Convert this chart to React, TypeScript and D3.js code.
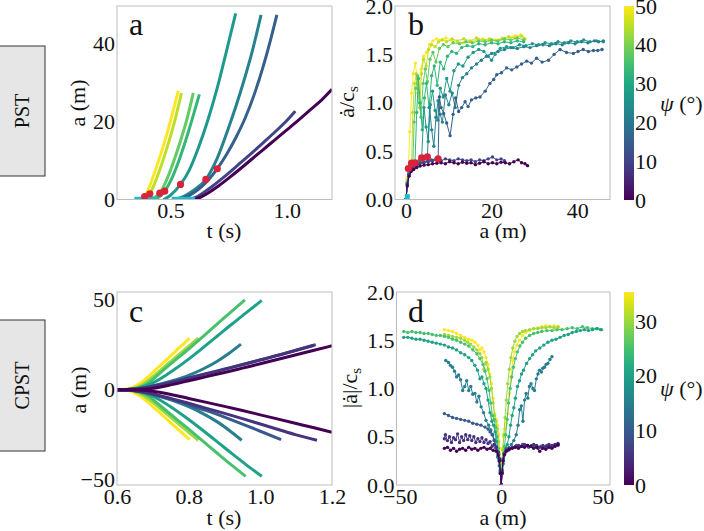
import React, { useRef, useEffect } from "react";
import * as d3 from "d3";

type Pt = [number, number];

// ---------- PST (panels a, b) ----------
const pstPsi = [0, 10, 15, 22, 27, 33, 38, 45, 50];

// panel a: crack length a (m) against time t (s)
const pstLength: Pt[][] = [
  [[0.605, 0], [0.63, 0.6], [0.66, 1.6], [0.7, 3.2], [0.75, 5.5], [0.8, 7.9], [0.85, 10.4], [0.9, 12.9], [0.95, 15.4], [1.0, 17.9], [1.05, 20.4], [1.1, 23.0], [1.15, 25.6], [1.194, 28.3]],
  [[0.583, 0], [0.61, 0.6], [0.64, 1.7], [0.68, 3.4], [0.72, 5.3], [0.76, 7.3], [0.8, 9.4], [0.85, 12.0], [0.9, 14.7], [0.95, 17.4], [1.0, 20.3], [1.036, 22.7]],
  [[0.54, 0], [0.58, 1.0], [0.62, 2.6], [0.66, 4.8], [0.701, 7.9], [0.74, 11.5], [0.78, 15.8], [0.82, 20.8], [0.86, 27.0], [0.9, 34.5], [0.93, 41.0], [0.957, 47.4]],
  [[0.52, 0], [0.56, 0.9], [0.6, 2.4], [0.652, 5.15], [0.7, 10.5], [0.75, 18.5], [0.8, 27.5], [0.85, 37.8], [0.889, 47.4]],
  [[0.47, 0], [0.5, 1.1], [0.543, 3.86], [0.58, 7.5], [0.62, 13.3], [0.66, 20.3], [0.7, 28.5], [0.74, 38.0], [0.78, 47.8]],
  [[0.43, 0], [0.455, 0.9], [0.475, 2.15], [0.5, 4.7], [0.53, 9.0], [0.56, 14.2], [0.59, 20.0], [0.624, 27.0]],
  [[0.41, 0], [0.435, 0.7], [0.454, 1.63], [0.48, 4.6], [0.51, 9.2], [0.54, 14.5], [0.57, 20.5], [0.598, 27.4]],
  [[0.388, 0], [0.4, 0.6], [0.411, 1.46], [0.43, 3.9], [0.46, 8.7], [0.49, 14.3], [0.52, 20.6], [0.547, 27.4]],
  [[0.372, 0], [0.38, 0.3], [0.389, 0.77], [0.41, 3.4], [0.44, 8.4], [0.47, 13.9], [0.5, 20.2], [0.533, 27.9]],
];

// supershear transition points in panel a
const aTransitionT = [0.389, 0.411, 0.454, 0.475, 0.543, 0.652, 0.701];
const aTransitionA = [0.77, 1.46, 1.63, 2.15, 3.86, 5.15, 7.9];
// nucleation stretches along a = 0
const aNucleationStart = [0.345, 0.505];
const aNucleationEnd = [0.44, 0.605];

// panel b: normalised speed against crack length
const pstSpeed: Pt[][] = [
  [[0, 0], [0.3, 0.14], [0.7, 0.24], [1.2, 0.29], [1.8, 0.31], [2.5, 0.33], [3.3, 0.345], [4.2, 0.355], [5.2, 0.36], [6.2, 0.37], [7.2, 0.375], [8.2, 0.38], [9.2, 0.37], [10.2, 0.39], [11.2, 0.38], [12.2, 0.37], [13.2, 0.385], [14.2, 0.375], [15.2, 0.38], [16.2, 0.36], [17.2, 0.375], [18.2, 0.39], [19.2, 0.37], [20.2, 0.38], [21.2, 0.37], [22.2, 0.385], [23.2, 0.38], [24.2, 0.37], [25.2, 0.39], [26.2, 0.41], [27.0, 0.38], [27.8, 0.37], [28.4, 0.35]],
  [[0, 0], [0.3, 0.16], [0.7, 0.26], [1.2, 0.31], [1.8, 0.33], [2.5, 0.35], [3.3, 0.37], [4.2, 0.38], [5.2, 0.39], [6.2, 0.4], [7.2, 0.41], [8.2, 0.4], [9.2, 0.42], [10.2, 0.41], [11.2, 0.4], [12.2, 0.42], [13.2, 0.41], [14.2, 0.4], [15.2, 0.41], [16.2, 0.39], [17.2, 0.41], [18.2, 0.4], [19.2, 0.42], [20.2, 0.44], [21.2, 0.41], [22.2, 0.42], [23.0, 0.4]],
  [[0, 0], [0.3, 0.15], [0.7, 0.25], [1.2, 0.3], [2, 0.34], [3, 0.37], [4, 0.39], [5, 0.4], [6, 0.41], [7, 0.42], [7.5, 0.42], [7.8, 1.06], [8.2, 0.95], [8.8, 0.89], [9.5, 0.79], [10.3, 0.66], [11.0, 0.88], [11.6, 1.05], [12.3, 0.91], [13.0, 0.95], [13.8, 1.01], [14.5, 0.96], [15.3, 1.03], [16.3, 1.05], [17.3, 1.06], [18.5, 1.12], [19.6, 1.2], [20.5, 1.24], [21.2, 1.29], [22.3, 1.31], [23.5, 1.36], [24.7, 1.34], [25.9, 1.37], [27, 1.4], [28.2, 1.43], [29.3, 1.41], [30.5, 1.46], [31.8, 1.42], [33.3, 1.44], [34.6, 1.5], [36, 1.55], [37.5, 1.52], [39.1, 1.51], [40.2, 1.53], [41.4, 1.55], [42.6, 1.53], [43.8, 1.54], [44.8, 1.54], [45.8, 1.55]],
  [[0, 0], [0.3, 0.16], [0.7, 0.26], [1.2, 0.31], [2, 0.35], [3, 0.38], [4, 0.41], [5.0, 0.44], [5.5, 0.95], [6.0, 0.72], [6.5, 0.55], [7.0, 0.85], [7.5, 1.02], [8.0, 0.88], [8.5, 0.8], [9.2, 1.08], [10, 0.98], [10.8, 1.1], [11.5, 0.95], [12.3, 1.18], [13.2, 1.26], [14.2, 1.3], [15.3, 1.36], [16.5, 1.4], [17.6, 1.44], [18.8, 1.48], [20, 1.51], [21.5, 1.53], [23, 1.55], [24.5, 1.57], [26, 1.56], [27.5, 1.58], [29, 1.57], [30.5, 1.59], [32, 1.6], [33.5, 1.59], [35, 1.61], [36.5, 1.6], [38, 1.62], [39.5, 1.61], [41, 1.63], [42.5, 1.62], [44, 1.64], [45, 1.63], [46.1, 1.64]],
  [[0, 0], [0.3, 0.17], [0.7, 0.27], [1.2, 0.32], [2, 0.36], [3, 0.4], [3.66, 0.43], [4.2, 0.95], [4.7, 0.75], [5.2, 0.6], [5.7, 0.98], [6.2, 1.12], [6.8, 0.92], [7.4, 0.82], [8.0, 1.15], [8.7, 1.06], [9.5, 1.25], [10.3, 1.12], [11.2, 1.33], [12.2, 1.4], [13.3, 1.38], [14.5, 1.47], [15.7, 1.52], [17, 1.55], [18.2, 1.53], [19.2, 1.48], [20.0, 1.44], [20.8, 1.5], [22, 1.56], [23.5, 1.58], [25, 1.57], [26.5, 1.6], [28, 1.59], [29.5, 1.61], [31, 1.6], [32.5, 1.62], [34, 1.61], [35.5, 1.63], [37, 1.62], [38.5, 1.64], [40, 1.63], [41.5, 1.65], [43, 1.63], [44.5, 1.64], [46.1, 1.63]],
  [[0, 0], [0.3, 0.17], [0.7, 0.27], [1.2, 0.33], [1.7, 0.36], [2.1, 0.38], [2.5, 0.9], [2.9, 1.25], [3.3, 1.0], [3.8, 0.72], [4.3, 1.05], [4.8, 1.2], [5.4, 0.95], [6.0, 1.28], [6.6, 1.38], [7.3, 1.18], [8.0, 1.42], [8.8, 1.35], [9.7, 1.48], [10.7, 1.53], [11.8, 1.51], [13, 1.57], [14.3, 1.59], [15.6, 1.58], [17, 1.61], [18.5, 1.6], [20, 1.62], [21.5, 1.61], [23, 1.63], [24.5, 1.62], [26, 1.64], [27.5, 1.63]],
  [[0, 0], [0.3, 0.18], [0.7, 0.28], [1.2, 0.34], [1.6, 0.37], [1.9, 0.8], [2.3, 1.15], [2.7, 1.28], [3.1, 1.0], [3.5, 0.85], [4.0, 1.2], [4.5, 1.35], [5.0, 1.22], [5.6, 1.45], [6.3, 1.52], [7.0, 1.42], [7.8, 1.56], [8.7, 1.6], [9.8, 1.58], [11, 1.62], [12.5, 1.61], [14, 1.63], [15.5, 1.62], [17, 1.64], [18.5, 1.63], [20, 1.65], [21.5, 1.64], [23, 1.66], [24.5, 1.65], [26, 1.67], [27.5, 1.65]],
  [[0, 0], [0.3, 0.2], [0.7, 0.3], [1.0, 0.35], [1.3, 0.375], [1.6, 0.9], [2.0, 1.2], [2.4, 1.3], [2.8, 1.1], [3.2, 0.95], [3.6, 1.3], [4.1, 1.45], [4.7, 1.38], [5.3, 1.55], [6.0, 1.6], [6.8, 1.58], [7.6, 1.63], [8.5, 1.65], [9.5, 1.63], [10.8, 1.66], [12, 1.64], [13.5, 1.66], [15, 1.64], [16.5, 1.67], [18, 1.65], [19.5, 1.66], [21, 1.64], [22.5, 1.66], [24, 1.68], [25.5, 1.67], [27, 1.69], [27.8, 1.66]],
  [[0, 0], [0.25, 0.22], [0.55, 0.32], [0.9, 0.7], [1.3, 1.1], [1.7, 1.3], [2.2, 1.41], [2.6, 1.25], [3.0, 1.13], [3.5, 1.35], [4.1, 1.48], [4.8, 1.52], [5.5, 1.6], [6.3, 1.64], [7.2, 1.66], [8.2, 1.65], [9.3, 1.67], [10.5, 1.65], [12, 1.63], [13.5, 1.62], [15, 1.63], [16.5, 1.65], [18, 1.66], [19.5, 1.64], [21, 1.65], [22.5, 1.67], [24, 1.68], [25.5, 1.69], [26.8, 1.7], [27.5, 1.67]],
];

const bTransitionA = [0.55, 1.3, 1.6, 2.1, 3.66, 5.0, 7.5];
const bTransitionV = [0.32, 0.375, 0.37, 0.38, 0.43, 0.44, 0.42];
const bNucleationA = [0.3];
const bNucleationV = [0.03];

// ---------- CPST (panels c, d) ----------
const cpstPsi = [0, 5, 10, 15, 20, 25, 30, 35.3];

const cpstLengthPos: Pt[][] = [
  [[0.6, 0], [0.66, 0.1], [0.7, 0.8], [0.75, 2.7], [0.8, 5.0], [0.85, 7.3], [0.9, 9.6], [0.95, 12.0], [1.0, 14.4], [1.05, 16.9], [1.1, 19.4], [1.15, 21.9], [1.2, 24.4]],
  [[0.6, 0], [0.65, 0.4], [0.7, 1.9], [0.75, 4.0], [0.8, 6.4], [0.85, 8.8], [0.9, 11.3], [0.95, 13.9], [1.0, 16.5], [1.05, 19.1], [1.1, 21.9], [1.15, 24.7]],
  [[0.6, 0], [0.65, 0.4], [0.7, 2.0], [0.75, 4.2], [0.8, 6.6], [0.85, 9.0], [0.9, 11.5], [0.95, 14.0], [1.0, 16.6], [1.05, 19.2], [1.1, 21.9], [1.155, 25.0]],
  [[0.6, 0], [0.65, 0.4], [0.7, 2.2], [0.75, 4.8], [0.8, 8.0], [0.84, 11.5], [0.88, 15.8], [0.91, 19.8], [0.946, 25.3]],
  [[0.6, 0], [0.64, 0.3], [0.67, 1.4], [0.7, 3.8], [0.73, 7.2], [0.76, 11.2], [0.8, 17.0], [0.84, 23.3], [0.88, 29.8], [0.92, 36.3], [0.96, 42.6], [1.004, 49.5]],
  [[0.6, 0], [0.63, 0.2], [0.66, 1.2], [0.69, 4.0], [0.71, 7.5], [0.73, 11.0], [0.76, 16.0], [0.8, 22.6], [0.84, 29.5], [0.88, 36.5], [0.92, 43.5], [0.957, 49.8]],
  [[0.6, 0], [0.625, 0.2], [0.65, 1.0], [0.67, 2.8], [0.69, 5.6], [0.71, 8.9], [0.74, 14.0], [0.77, 19.1], [0.8, 24.1], [0.827, 28.6]],
  [[0.6, 0], [0.62, 0.2], [0.64, 1.0], [0.66, 3.0], [0.68, 6.0], [0.7, 9.6], [0.725, 14.2], [0.75, 18.8], [0.775, 23.5], [0.803, 28.6]],
];

const cpstLengthNeg: Pt[][] = [
  [[0.6, 0], [0.66, -0.1], [0.7, -0.8], [0.75, -2.6], [0.8, -4.8], [0.85, -7.0], [0.9, -9.2], [0.95, -11.5], [1.0, -13.9], [1.05, -16.3], [1.1, -18.7], [1.15, -21.1], [1.2, -23.6]],
  [[0.6, 0], [0.65, -0.5], [0.7, -2.3], [0.75, -4.8], [0.8, -7.5], [0.85, -10.3], [0.9, -13.1], [0.95, -16.0], [1.0, -19.0], [1.05, -22.0], [1.1, -25.0], [1.158, -28.0]],
  [[0.6, 0], [0.65, -0.5], [0.7, -2.5], [0.75, -5.2], [0.8, -8.3], [0.85, -11.6], [0.9, -15.2], [0.95, -19.0], [1.0, -23.0], [1.058, -27.7]],
  [[0.6, 0], [0.65, -0.5], [0.7, -2.6], [0.75, -5.6], [0.8, -9.4], [0.84, -13.2], [0.88, -17.8], [0.91, -22.0], [0.948, -28.0]],
  [[0.6, 0], [0.64, -0.3], [0.67, -1.3], [0.7, -3.6], [0.73, -6.9], [0.76, -10.8], [0.8, -16.5], [0.84, -22.6], [0.88, -28.9], [0.92, -35.3], [0.96, -41.5], [1.004, -48.0]],
  [[0.6, 0], [0.63, -0.2], [0.66, -1.1], [0.69, -3.8], [0.71, -7.0], [0.73, -10.4], [0.76, -15.3], [0.8, -21.8], [0.84, -28.5], [0.88, -35.2], [0.92, -41.8], [0.959, -48.0]],
  [[0.6, 0], [0.625, -0.2], [0.65, -1.0], [0.67, -2.7], [0.69, -5.4], [0.71, -8.6], [0.74, -13.6], [0.77, -18.6], [0.8, -23.6], [0.827, -28.0]],
  [[0.6, 0], [0.62, -0.2], [0.64, -1.0], [0.66, -2.9], [0.68, -5.8], [0.7, -9.3], [0.725, -13.8], [0.75, -18.3], [0.775, -22.8], [0.803, -27.7]],
];

const cpstSpeedPos: Pt[][] = [
  [[0, 0], [0.4, 0.12], [0.9, 0.25], [1.5, 0.31], [2.5, 0.35], [4, 0.37], [5.5, 0.38], [7, 0.39], [8.5, 0.38], [10, 0.4], [11.5, 0.39], [13, 0.41], [14.5, 0.4], [16, 0.38], [17.5, 0.39], [19, 0.35], [20.5, 0.38], [22, 0.37], [23.5, 0.39], [25, 0.38], [26.5, 0.4], [28, 0.42]],
  [[0, 0], [0.4, 0.13], [0.9, 0.26], [1.5, 0.32], [2.5, 0.36], [4, 0.38], [5.5, 0.39], [7, 0.4], [8.5, 0.41], [10, 0.4], [11.5, 0.42], [13, 0.41], [14.5, 0.4], [16, 0.42], [17.5, 0.41], [19, 0.39], [20.5, 0.41], [22, 0.4], [23.5, 0.42], [25, 0.41], [26.5, 0.42], [28, 0.43]],
  [[0, 0], [0.4, 0.14], [0.9, 0.27], [1.5, 0.33], [2.5, 0.37], [3.5, 0.36], [4.5, 0.38], [6, 0.39], [7.5, 0.41], [9, 0.4], [10.5, 0.42], [12, 0.41], [13.5, 0.39], [15, 0.41], [16.5, 0.4], [18, 0.38], [19.5, 0.4], [21, 0.39], [22.5, 0.41], [24, 0.4], [25.5, 0.41], [27, 0.42], [28, 0.41]],
  [[0, 0], [0.5, 0.12], [1, 0.22], [1.8, 0.32], [2.8, 0.37], [3.8, 0.39], [5, 0.42], [6.2, 0.46], [7.4, 0.52], [8.3, 0.62], [9.1, 0.78], [9.9, 0.82], [10.7, 0.66], [11.5, 0.88], [12.3, 0.95], [13.1, 0.9], [13.9, 1.02], [14.7, 1.05], [15.6, 1.0], [16.4, 0.98], [17.3, 1.1], [18.1, 1.15], [18.9, 1.19], [19.8, 1.17], [20.5, 1.21], [21.3, 1.22], [22.1, 1.25], [23, 1.26], [24, 1.3], [25, 1.33]],
  [[0, 0], [0.5, 0.15], [1, 0.25], [1.6, 0.33], [2.3, 0.38], [3, 0.42], [3.8, 0.5], [4.6, 0.62], [5.4, 0.72], [6.2, 0.8], [7, 0.9], [8, 1.02], [9, 1.08], [10, 1.15], [11, 1.19], [12.5, 1.26], [14, 1.31], [15.5, 1.35], [17, 1.39], [19, 1.42], [21, 1.45], [23, 1.48], [25, 1.5], [27, 1.51], [29, 1.53], [31, 1.55], [33, 1.56], [35, 1.58], [37, 1.59], [39, 1.6], [41, 1.61], [43, 1.6], [45, 1.61], [47, 1.62], [49, 1.61]],
  [[0, 0], [0.5, 0.16], [1, 0.28], [1.6, 0.4], [2.2, 0.52], [2.9, 0.68], [3.6, 0.85], [4.4, 1.0], [5.2, 1.12], [6, 1.22], [7, 1.31], [8, 1.38], [9.2, 1.44], [10.5, 1.48], [12, 1.52], [14, 1.55], [16, 1.57], [18, 1.58], [20, 1.59], [22.5, 1.6], [25, 1.6], [27.5, 1.61], [30, 1.61], [32.5, 1.62], [35, 1.63], [37.5, 1.62], [40, 1.64], [42.5, 1.63], [45, 1.62], [47.5, 1.62], [49.5, 1.61]],
  [[0, 0], [0.4, 0.2], [0.8, 0.36], [1.3, 0.52], [1.9, 0.7], [2.5, 0.88], [3.2, 1.05], [4, 1.2], [4.8, 1.32], [5.7, 1.42], [6.7, 1.49], [7.8, 1.54], [9, 1.57], [10.5, 1.59], [12, 1.6], [14, 1.61], [16, 1.62], [18, 1.62], [20, 1.63], [22, 1.63], [24, 1.64], [26, 1.63], [28, 1.64]],
  [[0, 0], [0.3, 0.2], [0.7, 0.38], [1.2, 0.5], [1.8, 0.58], [2.5, 0.64], [3.3, 0.74], [4.0, 0.95], [4.8, 1.12], [5.7, 1.29], [6.6, 1.38], [7.7, 1.45], [9, 1.5], [10.5, 1.55], [12, 1.58], [14, 1.6], [16, 1.62], [18, 1.63], [20, 1.64], [22, 1.65], [24, 1.64], [26, 1.65], [28.5, 1.63]],
];

const cpstSpeedNeg: Pt[][] = [
  [[0, 0], [-0.4, 0.12], [-0.9, 0.25], [-1.5, 0.31], [-2.5, 0.35], [-4, 0.36], [-5.5, 0.38], [-7, 0.37], [-8.5, 0.39], [-10, 0.38], [-11.5, 0.36], [-13, 0.38], [-14.5, 0.37], [-16, 0.39], [-17.5, 0.36], [-19, 0.38], [-20.5, 0.37], [-22, 0.35], [-23.5, 0.38], [-25, 0.36], [-26.5, 0.39], [-28, 0.38]],
  [[0, 0], [-0.4, 0.13], [-0.9, 0.27], [-1.5, 0.34], [-2.5, 0.39], [-3.5, 0.42], [-4.5, 0.4], [-5.5, 0.45], [-6.5, 0.43], [-7.5, 0.47], [-8.5, 0.44], [-9.5, 0.49], [-10.5, 0.45], [-11.5, 0.48], [-12.5, 0.44], [-13.5, 0.5], [-14.5, 0.46], [-15.5, 0.51], [-16.5, 0.47], [-17.5, 0.52], [-18.5, 0.46], [-19.5, 0.5], [-20.5, 0.44], [-21.5, 0.53], [-22.5, 0.47], [-23.5, 0.49], [-24.5, 0.44], [-25.5, 0.5], [-26.5, 0.46], [-27.5, 0.52], [-28, 0.48]],
  [[0, 0], [-0.4, 0.14], [-0.9, 0.27], [-1.5, 0.34], [-2.5, 0.4], [-3.5, 0.46], [-4.5, 0.52], [-5.5, 0.55], [-6.5, 0.58], [-8, 0.6], [-10, 0.62], [-12, 0.63], [-14, 0.64], [-16, 0.66], [-18, 0.67], [-20, 0.68], [-22, 0.69], [-24, 0.7], [-26, 0.72], [-28, 0.74]],
  [[0, 0], [-0.5, 0.12], [-1, 0.2], [-1.8, 0.29], [-2.6, 0.38], [-3.4, 0.47], [-4.2, 0.52], [-5.1, 0.57], [-6.2, 0.62], [-7.5, 0.67], [-8.7, 0.75], [-9.9, 0.81], [-11, 0.92], [-12, 0.86], [-13, 0.95], [-14, 0.94], [-15, 1.02], [-16, 0.98], [-17, 1.08], [-18, 1.02], [-19, 0.98], [-20, 1.09], [-21, 1.14], [-22, 1.12], [-23, 1.18], [-24, 1.22], [-25, 1.24], [-26, 1.27], [-27.3, 1.29]],
  [[0, 0], [-0.5, 0.15], [-1, 0.25], [-1.6, 0.34], [-2.3, 0.45], [-3, 0.55], [-3.8, 0.62], [-4.6, 0.66], [-5.5, 0.75], [-6.5, 0.88], [-7.5, 1.0], [-8.5, 1.05], [-9.5, 1.12], [-10.5, 1.1], [-11.7, 1.19], [-13, 1.24], [-14.5, 1.29], [-16, 1.32], [-18, 1.35], [-20, 1.37], [-22, 1.4], [-24, 1.42], [-26, 1.43], [-28, 1.45], [-30, 1.46], [-32, 1.47], [-34, 1.48], [-36, 1.49], [-38, 1.5], [-40, 1.51], [-42, 1.51], [-44, 1.52], [-46, 1.53], [-48, 1.53]],
  [[0, 0], [-0.5, 0.16], [-1, 0.28], [-1.5, 0.38], [-2.1, 0.5], [-2.8, 0.6], [-3.5, 0.68], [-4.3, 0.72], [-5.2, 0.85], [-6, 0.98], [-7, 1.1], [-8, 1.18], [-9, 1.25], [-10.5, 1.31], [-12, 1.36], [-14, 1.4], [-16, 1.44], [-18, 1.46], [-20, 1.48], [-22, 1.5], [-24, 1.51], [-26, 1.53], [-28, 1.54], [-30, 1.55], [-32, 1.55], [-34, 1.56], [-36, 1.57], [-38, 1.57], [-40, 1.58], [-42, 1.58], [-44, 1.59], [-46, 1.58], [-48, 1.59]],
  [[0, 0], [-0.4, 0.18], [-0.8, 0.32], [-1.3, 0.45], [-1.9, 0.58], [-2.6, 0.66], [-3.3, 0.72], [-4, 0.85], [-4.8, 1.0], [-5.6, 1.12], [-6.5, 1.2], [-7.5, 1.27], [-8.5, 1.2], [-9.5, 1.32], [-10.5, 1.36], [-12, 1.4], [-13.5, 1.43], [-15, 1.46], [-16.5, 1.48], [-18, 1.5], [-20, 1.52], [-22, 1.53], [-24, 1.54], [-26, 1.55], [-28, 1.56]],
  [[0, 0], [-0.3, 0.2], [-0.7, 0.38], [-1.2, 0.52], [-1.8, 0.62], [-2.5, 0.68], [-3.2, 0.74], [-4, 0.9], [-4.8, 1.05], [-5.6, 1.15], [-6.5, 1.25], [-7.5, 1.32], [-8.5, 1.38], [-9.5, 1.42], [-10.5, 1.4], [-11.5, 1.45], [-13, 1.48], [-14.5, 1.5], [-16, 1.51], [-18, 1.53], [-20, 1.55], [-22, 1.57], [-24, 1.59], [-26, 1.6], [-28, 1.61]],
];

// ticks
const aXTicks = [0.5, 1.0];
const aYTicks = [0, 20, 40];
const bXTicks = [0, 20, 40];
const speedTicks = [0, 0.5, 1.0, 1.5, 2.0];
const cXTicks = [0.6, 0.8, 1.0, 1.2];
const cYTicks = [-50, 0, 50];
const dXTicks = [-50, 0, 50];
const pstBarTicks = [0, 10, 20, 30, 40, 50];
const cpstBarTicks = [0, 10, 20, 30];

const FONT = "'Liberation Serif', 'DejaVu Serif', serif";
const TICK_SIZE = 22;
const LABEL_SIZE = 22;
const RED = "#d8233b";
const CYAN = "#17becf";

const App = () => {
  const svgRef = useRef<SVGSVGElement>(null);

  useEffect(() => {
    const svg = d3.select(svgRef.current);
    svg.selectAll("*").remove();
    const defs = svg.append("defs");

    // gradient for the colorbars
    const grad = defs
      .append("linearGradient")
      .attr("id", "viridis")
      .attr("x1", 0).attr("y1", 1).attr("x2", 0).attr("y2", 0);
    d3.range(0, 1.0001, 0.05).forEach((s) => {
      grad.append("stop").attr("offset", s).attr("stop-color", d3.interpolateViridis(s));
    });

    const panel = (
      id: string,
      box: { l: number; r: number; t: number; b: number },
      xDom: number[],
      yDom: number[],
      xTicks: number[],
      yTicks: number[],
      xFmt: (d: number) => string,
      yFmt: (d: number) => string
    ) => {
      const x = d3.scaleLinear().domain(xDom).range([box.l, box.r]);
      const y = d3.scaleLinear().domain(yDom).range([box.b, box.t]);
      defs
        .append("clipPath")
        .attr("id", "clip-" + id)
        .append("rect")
        .attr("x", box.l).attr("y", box.t)
        .attr("width", box.r - box.l).attr("height", box.b - box.t);

      const xAxis = svg
        .append("g")
        .attr("transform", `translate(0,${box.b})`)
        .call(d3.axisBottom(x).tickValues(xTicks).tickSize(0).tickPadding(3).tickFormat((d) => xFmt(+d)));
      const yAxis = svg
        .append("g")
        .attr("transform", `translate(${box.l},0)`)
        .call(d3.axisLeft(y).tickValues(yTicks).tickSize(0).tickPadding(2).tickFormat((d) => yFmt(+d)));
      [xAxis, yAxis].forEach((ax) => {
        ax.select(".domain").remove();
        ax.selectAll("text").attr("font-family", FONT).attr("font-size", TICK_SIZE).attr("fill", "#111");
      });

      const plot = svg.append("g").attr("clip-path", `url(#clip-${id})`);
      svg
        .append("rect")
        .attr("x", box.l).attr("y", box.t)
        .attr("width", box.r - box.l).attr("height", box.b - box.t)
        .attr("fill", "none").attr("stroke", "#bdbdbd").attr("stroke-width", 1);
      return { x, y, plot };
    };

    const text = (
      str: string,
      xPos: number,
      yPos: number,
      size: number,
      anchor = "middle",
      rotate = false
    ) =>
      svg
        .append("text")
        .attr("transform", `translate(${xPos},${yPos})${rotate ? " rotate(-90)" : ""}`)
        .attr("text-anchor", anchor)
        .attr("font-family", FONT)
        .attr("font-size", size)
        .attr("fill", "#111")
        .text(str);

    const colorbar = (top: number, bottom: number, max: number, ticks: number[], labelY: number) => {
      svg
        .append("rect")
        .attr("x", 624).attr("y", top).attr("width", 10).attr("height", bottom - top)
        .attr("fill", "url(#viridis)");
      const s = d3.scaleLinear().domain([0, max]).range([bottom, top]);
      const ax = svg
        .append("g")
        .attr("transform", "translate(634,0)")
        .call(d3.axisRight(s).tickValues(ticks).tickSize(0).tickPadding(1));
      ax.select(".domain").remove();
      ax.selectAll("text").attr("font-family", FONT).attr("font-size", TICK_SIZE).attr("fill", "#111");
      const t = svg
        .append("text")
        .attr("x", 660).attr("y", labelY)
        .attr("font-family", FONT).attr("font-size", LABEL_SIZE).attr("fill", "#111");
      t.append("tspan").attr("font-style", "italic").text("ψ");
      t.append("tspan").text(" (°)");
    };

    const fmt1 = d3.format(".1f");
    const fmt0 = d3.format("d");

    // ---------------- panel a ----------------
    const pa = panel("a", { l: 117, r: 332, t: 6, b: 199.5 }, [0.27, 1.194], [0, 49.7], aXTicks, aYTicks, fmt1, fmt0);
    const pstColor = d3.scaleSequential(d3.interpolateViridis).domain([0, 50]);
    const lineA = d3.line<Pt>().x((d) => pa.x(d[0])).y((d) => pa.y(d[1])).curve(d3.curveMonotoneX);
    for (let i = pstLength.length - 1; i >= 0; i--) {
      pa.plot
        .append("path")
        .attr("d", lineA(pstLength[i]))
        .attr("fill", "none")
        .attr("stroke", pstColor(pstPsi[i]))
        .attr("stroke-width", 3);
    }
    aNucleationStart.forEach((s, i) => {
      pa.plot
        .append("line")
        .attr("x1", pa.x(s)).attr("x2", pa.x(aNucleationEnd[i]))
        .attr("y1", pa.y(0.35)).attr("y2", pa.y(0.35))
        .attr("stroke", CYAN).attr("stroke-width", 3);
    });
    aTransitionT.forEach((t, i) => {
      pa.plot
        .append("circle")
        .attr("cx", pa.x(t)).attr("cy", pa.y(aTransitionA[i]))
        .attr("r", 3.6).attr("fill", RED);
    });
    text("a", 129, 35, 32, "start");
    text("t (s)", 224, 238, LABEL_SIZE);
    text("a (m)", 85, 103, LABEL_SIZE, "middle", true);

    // ---------------- panel b ----------------
    const pb = panel("b", { l: 395, r: 610, t: 6, b: 199.5 }, [-2.57, 47.66], [0, 2], bXTicks, speedTicks, fmt0, fmt1);
    const lineB = d3.line<Pt>().x((d) => pb.x(d[0])).y((d) => pb.y(d[1]));
    for (let i = pstSpeed.length - 1; i >= 0; i--) {
      const c = pstColor(pstPsi[i]);
      pb.plot.append("path").attr("d", lineB(pstSpeed[i])).attr("fill", "none").attr("stroke", c).attr("stroke-width", 1);
      pb.plot
        .selectAll(null)
        .data(pstSpeed[i])
        .enter()
        .append("circle")
        .attr("cx", (d) => pb.x(d[0]))
        .attr("cy", (d) => pb.y(d[1]))
        .attr("r", 1.7)
        .attr("fill", c);
    }
    bTransitionA.forEach((a, i) => {
      pb.plot.append("circle").attr("cx", pb.x(a)).attr("cy", pb.y(bTransitionV[i])).attr("r", 3.6).attr("fill", RED);
    });
    bNucleationA.forEach((a, i) => {
      pb.plot
        .append("rect")
        .attr("x", pb.x(a) - 2.5).attr("y", pb.y(bNucleationV[i]) - 2.5)
        .attr("width", 5).attr("height", 5).attr("fill", CYAN);
    });
    text("b", 408, 35, 32, "start");
    text("a (m)", 503, 238, LABEL_SIZE);
    const bl = svg
      .append("text")
      .attr("transform", "translate(354,102) rotate(-90)")
      .attr("text-anchor", "middle")
      .attr("font-family", FONT).attr("font-size", LABEL_SIZE).attr("fill", "#111");
    bl.append("tspan").text("ȧ/c");
    bl.append("tspan").attr("font-size", 15).attr("dy", 4).text("s");
    colorbar(6, 200, 50, pstBarTicks, 111);

    // ---------------- panel c ----------------
    const pc = panel("c", { l: 117, r: 332, t: 292, b: 485 }, [0.6, 1.2], [-52.8, 54.2], cXTicks, cYTicks, fmt1, fmt0);
    const cpstColor = d3.scaleSequential(d3.interpolateViridis).domain([0, 35.3]);
    const lineC = d3.line<Pt>().x((d) => pc.x(d[0])).y((d) => pc.y(d[1])).curve(d3.curveMonotoneX);
    for (let i = cpstPsi.length - 1; i >= 0; i--) {
      [cpstLengthPos[i], cpstLengthNeg[i]].forEach((series) => {
        pc.plot
          .append("path")
          .attr("d", lineC(series))
          .attr("fill", "none")
          .attr("stroke", cpstColor(cpstPsi[i]))
          .attr("stroke-width", 3);
      });
    }
    text("c", 129, 322, 32, "start");
    text("t (s)", 224, 525, LABEL_SIZE);
    text("a (m)", 86, 390, LABEL_SIZE, "middle", true);

    // ---------------- panel d ----------------
    const pd = panel("d", { l: 396.5, r: 610, t: 292, b: 485 }, [-51.6, 53.6], [0, 2], dXTicks, speedTicks, fmt0, fmt1);
    const lineD = d3.line<Pt>().x((d) => pd.x(d[0])).y((d) => pd.y(d[1]));
    for (let i = cpstPsi.length - 1; i >= 0; i--) {
      const c = cpstColor(cpstPsi[i]);
      [cpstSpeedPos[i], cpstSpeedNeg[i]].forEach((series) => {
        pd.plot.append("path").attr("d", lineD(series)).attr("fill", "none").attr("stroke", c).attr("stroke-width", 1);
        pd.plot
          .selectAll(null)
          .data(series)
          .enter()
          .append("circle")
          .attr("cx", (d) => pd.x(d[0]))
          .attr("cy", (d) => pd.y(d[1]))
          .attr("r", 1.7)
          .attr("fill", c);
      });
    }
    text("d", 408, 322, 32, "start");
    text("a (m)", 503, 525, LABEL_SIZE);
    const dl = svg
      .append("text")
      .attr("transform", "translate(357,388) rotate(-90)")
      .attr("text-anchor", "middle")
      .attr("font-family", FONT).attr("font-size", LABEL_SIZE).attr("fill", "#111");
    dl.append("tspan").text("|ȧ|/c");
    dl.append("tspan").attr("font-size", 15).attr("dy", 4).text("s");
    colorbar(292, 485, 35.3, cpstBarTicks, 396);

    // ---------------- row labels ----------------
    const rowLabel = (label: string, top: number, bottom: number) => {
      svg
        .append("rect")
        .attr("x", -1).attr("y", top).attr("width", 46).attr("height", bottom - top)
        .attr("fill", "#e6e6e6").attr("stroke", "#333").attr("stroke-width", 1);
      text(label, 29, (top + bottom) / 2, 20, "middle", true);
    };
    rowLabel("PST", 46, 176);
    rowLabel("CPST", 320, 451);
  }, []);

  return (
    <div style={{ position: "absolute", left: 0, top: 0 }}>
      <svg ref={svgRef} width={704} height={531} style={{ display: "block", background: "#fff" }} />
    </div>
  );
};

export default App;
